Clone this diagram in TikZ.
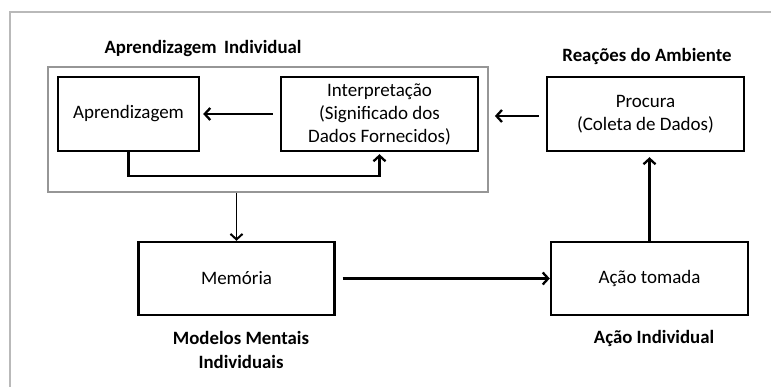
\documentclass[tikz,border=0pt]{standalone}
\usepackage{fontspec}
\setmainfont{Carlito}
\usepackage{xcolor}
\usetikzlibrary{arrows.meta}

\definecolor{framegray}{RGB}{185,185,185}
\definecolor{groupgray}{RGB}{150,150,150}

\tikzset{
  box/.style={draw=black, line width=2.4pt, align=center, inner sep=0pt,
    font=\fontsize{19}{23}\selectfont},
  groupbox/.style={draw=groupgray, line width=1.8pt, inner sep=0pt},
  lbl/.style={align=center, font=\fontsize{18.8}{24}\selectfont\bfseries},
  seta/.style={line width=2.6pt, -{Straight Barb[length=5.5pt,width=12pt,line width=2.3pt]}},
  setafina/.style={line width=1.8pt, -{Straight Barb[length=5.5pt,width=12pt,line width=2pt]}}
}

\begin{document}
\begin{tikzpicture}[x=1pt,y=-1pt]
  \useasboundingbox (0,0) rectangle (771,387);
  % moldura
  \draw[framegray, line width=2.6pt] (10,387) -- (10,12) -- (771,12);

  \node [groupbox, minimum width=440, minimum height=125] (grupo) at (268,129.5) {};
  \node [box, minimum width=141, minimum height=74] (aprend) at (128.5,114) {Aprendizagem};
  \node [box, minimum width=197, minimum height=74] (interp) at (379.5,114) {Interpretação\\(Significado dos\\Dados Fornecidos)};
  \node [box, minimum width=197, minimum height=74] (procura) at (645.5,114) {Procura\\(Coleta de Dados)};
  \node [box, minimum width=196, minimum height=73] (memoria) at (236.5,278.5) {Memória};
  \node [box, minimum width=197, minimum height=73] (acao) at (649.5,278.5) {Ação tomada};

  \node [lbl] (tAprend) at (203,49) {Aprendizagem\, Individual};
  \node [lbl] (tReac) at (647,56) {Reações do Ambiente};
  \node [lbl] (tModelos) at (241,350) {Modelos Mentais\\Individuais};
  \node [lbl] (tAcao) at (654,338) {Ação Individual};

  \coordinate (pw) at ([yshift=-2pt]procura.west);
  \draw[seta, shorten <=7pt, shorten >=6pt] (pw) -- (pw -| grupo.east);
  \draw[seta, shorten <=7pt, shorten >=3pt] (interp.west) -- (aprend.east);
  \draw[seta, shorten >=2pt] (aprend.south) |- (379.5,176) -- (interp.south);
  \draw[setafina] (grupo.south -| memoria.north) -- (memoria.north);
  \draw[seta, shorten <=7pt] (memoria.east) -- (acao.west);
  \draw[seta, shorten >=5pt] (acao.north) -- (acao.north |- procura.south);
\end{tikzpicture}
\end{document}
